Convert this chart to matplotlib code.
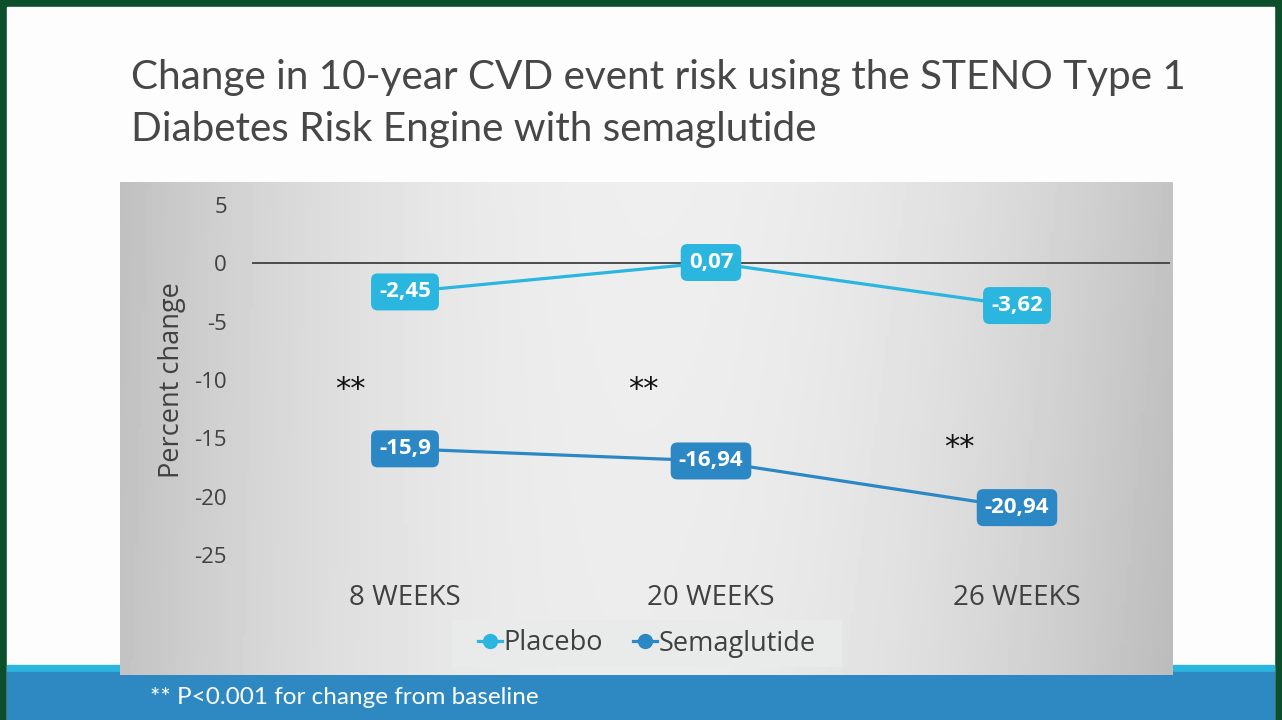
import numpy as np
import matplotlib
matplotlib.use("Agg")
import matplotlib.pyplot as plt

# ---- data ----
weeks = ["8 WEEKS", "20 WEEKS", "26 WEEKS"]
placebo = [-2.45, 0.07, -3.62]
semaglutide = [-15.9, -16.94, -20.94]
placebo_lbl = ["-2,45", "0,07", "-3,62"]
sema_lbl = ["-15,9", "-16,94", "-20,94"]
star_x = [-0.18, 0.78, 1.81]
star_y = [-10.2, -10.2, -15.2]

W, H = 1282, 720
C_PLA = "#2AB6DF"
C_SEM = "#2C88C4"
TXT = "#404040"

plt.rcParams["font.family"] = ["Open Sans", "DejaVu Sans"]
plt.rcParams["axes.unicode_minus"] = False


def px_axes(fig, x0, y0, x1, y1, **kw):
    return fig.add_axes([x0 / W, 1 - y1 / H, (x1 - x0) / W, (y1 - y0) / H], **kw)


fig = plt.figure(figsize=(W / 100, H / 100), dpi=100)
fig.patch.set_facecolor("#0E4F2B")

# white slide + bottom band
bg = px_axes(fig, 0, 0, W, H)
bg.set_xlim(0, W)
bg.set_ylim(H, 0)
bg.axis("off")
bg.add_patch(plt.Rectangle((7, 7), 1267, 720, color="#FDFDFD"))
bg.add_patch(plt.Rectangle((7, 665), 1267, 8, color="#2AB6DF"))
bg.add_patch(plt.Rectangle((7, 672), 1267, 50, color="#2E89C2"))

bg.text(131, 78, "Change in 10-year CVD event risk using the STENO Type 1",
        fontsize=29.2, color="#474747", va="center", ha="left",
        family=["Lato", "DejaVu Sans"])
bg.text(131, 129, "Diabetes Risk Engine with semaglutide",
        fontsize=29.2, color="#474747", va="center", ha="left",
        family=["Lato", "DejaVu Sans"])

# gradient panel
pan = px_axes(fig, 120, 182, 1173, 675)
gx = np.linspace(0, 1, 300)
gy = np.linspace(0, 1, 150)
X, Y = np.meshgrid(gx, gy)
grad = 0.955 - 0.19 * ((X - 0.48) / 0.52) ** 2 - 0.04 * (1 - Y) * (1 - X) - 0.03 * Y
pan.imshow(grad, cmap="gray", vmin=0, vmax=1, aspect="auto", extent=(0, 1, 0, 1))
pan.axis("off")

# footnote
bg.text(150, 698, "** P<0.001 for change from baseline", fontsize=17.5,
        color="white", va="center", ha="left", family=["Lato", "DejaVu Sans"])

# main plot
ax = px_axes(fig, 252, 205, 1170, 555)
ax.patch.set_alpha(0)
x = np.arange(len(weeks))
ax.plot(x, placebo, color=C_PLA, lw=2.3, marker="o", ms=7, zorder=3)
ax.plot(x, semaglutide, color=C_SEM, lw=2.3, marker="o", ms=7, zorder=3)
ax.axhline(0, color="#404040", lw=1.3, zorder=1)

for xi, v, s in zip(x, placebo, placebo_lbl):
    ax.text(xi, v, s, ha="center", va="center", fontsize=16, fontweight="bold",
            color="white", zorder=5,
            bbox=dict(boxstyle="round,pad=0.36,rounding_size=0.3", fc=C_PLA, ec="none"))
for xi, v, s in zip(x, semaglutide, sema_lbl):
    ax.text(xi, v, s, ha="center", va="center", fontsize=16, fontweight="bold",
            color="white", zorder=5,
            bbox=dict(boxstyle="round,pad=0.36,rounding_size=0.3", fc=C_SEM, ec="none"))

for sx, sy in zip(star_x, star_y):
    ax.annotate("**", (sx, sy), xytext=(0, -5), textcoords="offset points",
                ha="center", va="center", fontsize=22, color="#111111",
                family=["DejaVu Sans"])

ax.set_xlim(-0.5, 2.5)
ax.set_ylim(-25, 5)
ax.set_yticks([5, 0, -5, -10, -15, -20, -25])
ax.set_xticks(x)
ax.set_xticklabels(weeks)
ax.tick_params(axis="y", length=0, pad=18, labelsize=16, labelcolor=TXT)
ax.tick_params(axis="x", length=0, pad=21, labelsize=20, labelcolor=TXT)
for sp in ax.spines.values():
    sp.set_visible(False)
ax.set_ylabel("Percent change", fontsize=19.5, color=TXT, labelpad=6)

# legend
leg_ax = px_axes(fig, 452, 620, 842, 667)
leg_ax.set_xlim(0, 1)
leg_ax.set_ylim(0, 1)
leg_ax.axis("off")
leg_ax.add_patch(plt.Rectangle((0, 0), 1, 1, color="#E9EAEA"))
h1, = leg_ax.plot([], [], color=C_PLA, lw=2.3, marker="o", ms=10)
h2, = leg_ax.plot([], [], color=C_SEM, lw=2.3, marker="o", ms=10)
leg_ax.legend([h1, h2], ["Placebo", "Semaglutide"], loc="center", ncol=2,
              frameon=False, fontsize=19.5, handlelength=0.9, handletextpad=0.05,
              columnspacing=1.1, labelcolor=TXT, borderpad=0)

fig.savefig("out.png", dpi=100, facecolor=fig.get_facecolor())
